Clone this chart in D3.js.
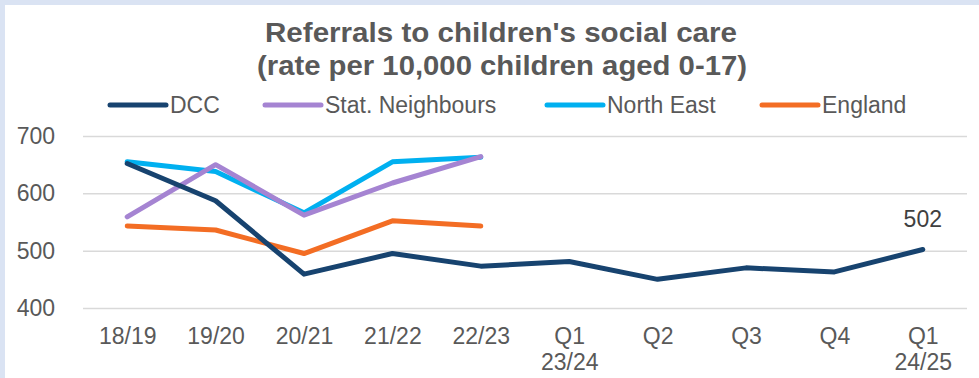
<!DOCTYPE html>
<html>
<head>
<meta charset="utf-8">
<script src="https://cdn.jsdelivr.net/npm/d3@7"></script>
<style>
  body { margin: 0; background: #dae3f3; }
  svg { display: block; font-family: "Liberation Sans", Arial, sans-serif; }
</style>
</head>
<body>
<svg id="chart"></svg>
<script>
const w = 979;
const h = 378;

const periods = ["18/19", "19/20", "20/21", "21/22", "22/23", "Q1\n23/24", "Q2", "Q3", "Q4", "Q1\n24/25"];
const dcc = [652, 587, 459, 495, 473, 481, 450, 470, 463, 502];
const statNeighbours = [559, 650, 562, 618, 664];
const northEast = [655, 638, 566, 655, 663];
const england = [543, 536, 495, 552, 543];
const yTicks = [400, 500, 600, 700];

const series = [
  { name: "DCC", values: dcc, color: "#17436f" },
  { name: "Stat. Neighbours", values: statNeighbours, color: "#a584d2" },
  { name: "North East", values: northEast, color: "#00b0f0" },
  { name: "England", values: england, color: "#f36d24" }
];

const svg = d3.select("#chart")
  .attr("width", w)
  .attr("height", h);

// white chart panel, the blue shows only on top and left
svg.append("rect")
  .attr("x", 5).attr("y", 5)
  .attr("width", w - 5).attr("height", h - 5)
  .attr("fill", "#fff");

const x = d3.scalePoint()
  .domain(periods)
  .range([83, 967])
  .padding(0.5);

const y = d3.scaleLinear()
  .domain([400, 700])
  .range([308, 136]);

// title (the original is drawn a bit wide, so stretch it)
const title = svg.append("text")
  .attr("text-anchor", "middle")
  .attr("font-weight", "bold")
  .attr("font-size", 27)
  .attr("fill", "#595959");
title.append("tspan").attr("x", 501).attr("y", 42)
  .attr("textLength", 472).attr("lengthAdjust", "spacingAndGlyphs")
  .text("Referrals to children's social care");
title.append("tspan").attr("x", 502).attr("y", 75)
  .attr("textLength", 490).attr("lengthAdjust", "spacingAndGlyphs")
  .text("(rate per 10,000 children aged 0-17)");

// legend
const legendX = [110, 265, 547, 762];
const legend = svg.append("g")
  .selectAll("g")
  .data(series)
  .enter()
  .append("g")
  .attr("transform", (d, i) => `translate(${legendX[i]}, 105)`);
legend.append("line")
  .attr("x1", 0).attr("x2", 56)
  .attr("stroke", d => d.color)
  .attr("stroke-width", 5)
  .attr("stroke-linecap", "round");
legend.append("text")
  .attr("x", 60)
  .attr("y", 8)
  .attr("font-size", 23)
  .attr("fill", "#595959")
  .text(d => d.name);

// grid + y labels
const yAxis = d3.axisLeft(y)
  .tickValues(yTicks)
  .tickSize(-(967 - 83))
  .tickPadding(28);

const grid = svg.append("g")
  .attr("transform", "translate(83, 0)")
  .call(yAxis);
grid.select(".domain").remove();
grid.selectAll("line").attr("stroke", "#d9d9d9").attr("stroke-width", 1.5);
grid.selectAll("text")
  .attr("font-size", 23)
  .attr("fill", "#595959")
  .attr("font-family", "Liberation Sans, Arial, sans-serif");

// x labels
const xAxis = d3.axisBottom(x).tickSize(0).tickFormat("");
const xg = svg.append("g")
  .attr("transform", "translate(0, 308)")
  .call(xAxis);
xg.select(".domain").remove();
xg.selectAll(".tick").each(function(d) {
  const t = d3.select(this).append("text")
    .attr("text-anchor", "middle")
    .attr("font-size", 23)
    .attr("fill", "#595959");
  d.split("\n").forEach((part, i) => {
    t.append("tspan").attr("x", 0).attr("y", 36 + i * 26).text(part);
  });
});

// lines
const line = d3.line()
  .x((d, i) => x(periods[i]))
  .y(d => y(d));

svg.append("g")
  .selectAll("path")
  .data(series.slice().reverse())
  .enter()
  .append("path")
  .attr("d", d => line(d.values))
  .attr("fill", "none")
  .attr("stroke", d => d.color)
  .attr("stroke-width", 5)
  .attr("stroke-linejoin", "round")
  .attr("stroke-linecap", "round");

// data label on last DCC point
const last = dcc.length - 1;
svg.append("text")
  .attr("x", x(periods[last]))
  .attr("y", y(dcc[last]) - 23)
  .attr("text-anchor", "middle")
  .attr("font-size", 23)
  .attr("fill", "#404040")
  .text(dcc[last]);
</script>
</body>
</html>
